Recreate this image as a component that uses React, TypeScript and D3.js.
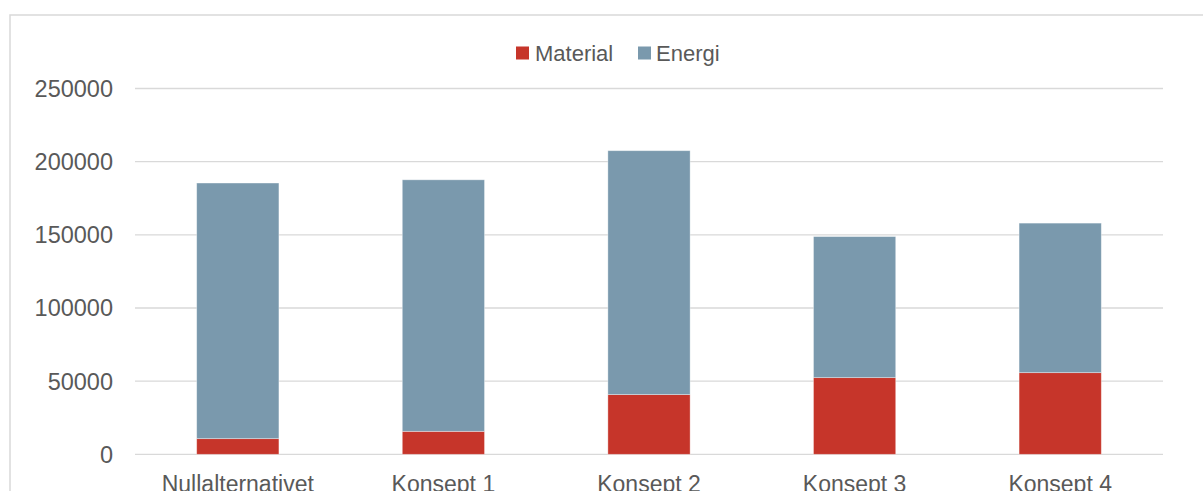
import React from "react";
import * as d3 from "d3";

const categories = ["Nullalternativet", "Konsept 1", "Konsept 2", "Konsept 3", "Konsept 4"];
const material = [10700, 15700, 40800, 52400, 55800];
const energi = [174700, 171900, 166700, 96400, 102200];
const yTicks = [0, 50000, 100000, 150000, 200000, 250000];

const seriesNames = ["Material", "Energi"];
const colors = ["#C6352A", "#7A99AD"];

const App: React.FC = () => {
  const width = 1203;
  const height = 491;
  const plot = { left: 135, right: 1163, top: 88.5, bottom: 454.3 };
  const textColor = "#595959";
  const font = "'Liberation Sans', Arial, sans-serif";

  // Skala for kategorier
  const x = d3
    .scaleBand<string>()
    .domain(categories)
    .range([plot.left, plot.right])
    .paddingInner(0.6)
    .paddingOuter(0.3);

  // Skala for verdier
  const y = d3.scaleLinear().domain([0, 250000]).range([plot.bottom, plot.top]);

  const rows = categories.map((c, i) => ({ cat: c, Material: material[i], Energi: energi[i] }));
  const stacked = d3.stack<any>().keys(seriesNames)(rows);

  return (
    <svg
      width={width}
      height={height}
      style={{ position: "absolute", left: 0, top: 0, display: "block", background: "#fff" }}
      fontFamily={font}
    >
      {/* Ramme */}
      <rect x={10} y={15} width={1200} height={490} fill="none" stroke="#d9d9d9" strokeWidth={1.5} />

      {/* Rutenett og y-akse */}
      {yTicks.map((t) => (
        <g key={t}>
          <line
            x1={plot.left}
            x2={plot.right}
            y1={y(t)}
            y2={y(t)}
            stroke="#d9d9d9"
            strokeWidth={1.3}
          />
          <text x={113} y={y(t) + 8.5} textAnchor="end" fontSize={23.5} fill={textColor}>
            {t}
          </text>
        </g>
      ))}

      {/* Stablede søyler */}
      {stacked.map((s, si) => (
        <g key={s.key} fill={colors[si]}>
          {s.map((d, i) => (
            <rect
              key={i}
              x={x(categories[i]) ?? 0}
              y={y(d[1])}
              width={x.bandwidth()}
              height={y(d[0]) - y(d[1])}
              stroke="#ffffff"
              strokeOpacity={0.45}
              strokeWidth={0.8}
            />
          ))}
        </g>
      ))}

      {/* X-akse etiketter */}
      {categories.map((c) => (
        <text
          key={c}
          x={(x(c) ?? 0) + x.bandwidth() / 2}
          y={492}
          textAnchor="middle"
          fontSize={23}
          fill={textColor}
        >
          {c}
        </text>
      ))}

      {/* Forklaring */}
      <g>
        <rect x={516} y={46.5} width={13} height={13} fill={colors[0]} />
        <text x={535} y={60.5} fontSize={22} fill={textColor}>
          {seriesNames[0]}
        </text>
        <rect x={638} y={46.5} width={13} height={13} fill={colors[1]} />
        <text x={656} y={60.5} fontSize={22} fill={textColor}>
          {seriesNames[1]}
        </text>
      </g>
    </svg>
  );
};

export default App;
